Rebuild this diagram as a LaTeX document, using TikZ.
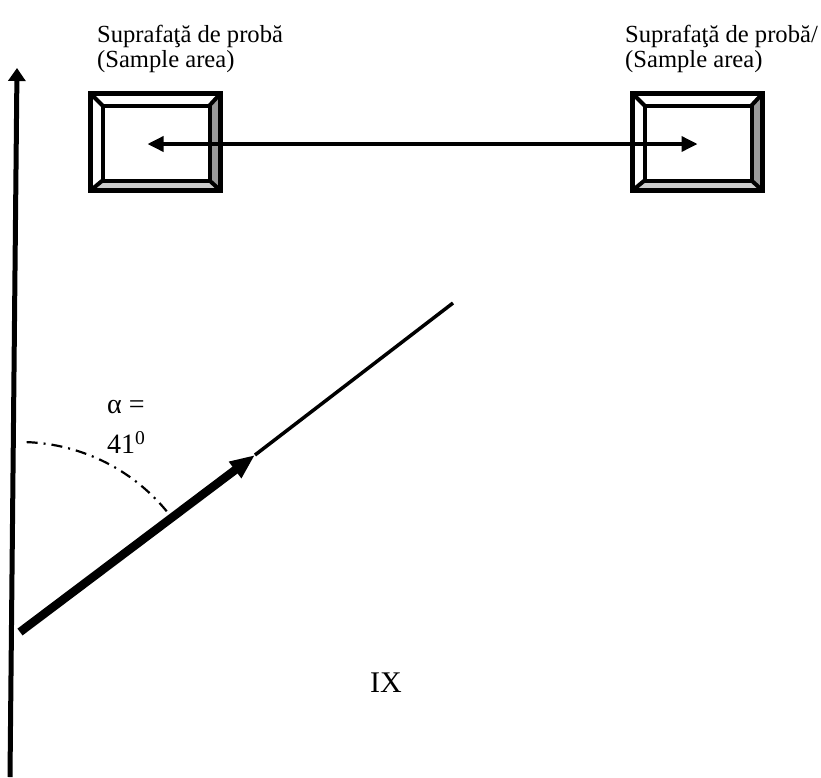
\documentclass[tikz,border=0pt]{standalone}
\usepackage{fontspec}
\setmainfont{Liberation Serif}
\usepackage{tikz}
\usetikzlibrary{arrows.meta,positioning,calc,backgrounds}
\definecolor{bevdark}{RGB}{153,153,153}
\definecolor{bevlight}{RGB}{204,204,204}

\begin{document}
\begin{tikzpicture}[x=1pt,y=-1pt,
 frame/.style={rectangle,draw,line width=5.5pt,minimum width=130pt,minimum height=97pt,inner sep=0pt,outer sep=0pt},
 bevel/.style={line width=4pt},
 link/.style={{Triangle[length=16pt,width=15pt]}-{Triangle[length=16pt,width=15pt]},line width=3.5pt},
 axis/.style={-{Triangle[length=13pt,width=17pt]},line width=5pt},
 beam/.style={-{Triangle[length=25pt,width=19pt]},line width=8.5pt},
 ray/.style={line width=3.5pt},
 anglearc/.style={line width=2.2pt,dash pattern=on 11pt off 6pt on 2pt off 6pt},
 label/.style={align=left,inner sep=0pt,font=\fontsize{24.6}{25}\selectfont}
]
\useasboundingbox (0,0) rectangle (821,777);
\node[frame] (lbox) at (155.5,142) {};
\node[frame] (rbox) at (697.5,142) {};
\foreach \nm in {lbox,rbox}{
 \coordinate (\nm-a) at ($(\nm.north west)+(12,12)$);
 \coordinate (\nm-b) at ($(\nm.north east)+(-11,12)$);
 \coordinate (\nm-c) at ($(\nm.south east)+(-11,-10)$);
 \coordinate (\nm-d) at ($(\nm.south west)+(12,-10)$);
 \begin{scope}[on background layer]
 \fill[bevdark] (\nm.north east) -- (\nm.south east) -- (\nm-c) -- (\nm-b) -- cycle;
 \fill[bevlight] (\nm.south west) -- (\nm.south east) -- (\nm-c) -- (\nm-d) -- cycle;
 \end{scope}
 \draw[bevel] (\nm-a) rectangle (\nm-c);
 \draw[bevel] (\nm.north west) -- (\nm-a) (\nm.north east) -- (\nm-b)
  (\nm.south east) -- (\nm-c) (\nm.south west) -- (\nm-d);
}
\node[label,anchor=north west] (ltext) at (97,25) {Suprafaţă de probă\\(Sample area)};
\node[label,anchor=north west] (rtext) at (625,25) {Suprafaţă de probă/\\(Sample area)};
\coordinate (lend) at ([xshift=-8pt,yshift=-2pt]lbox.center);
\coordinate (rend) at ([yshift=-2pt]rbox.center);
\draw[link] (lend) -- (rend);
% reference axis
\coordinate (axbot) at (10,777);
\coordinate (axtop) at (17,68);
\draw[axis] (axbot) -- (axtop);
% incident beam
\coordinate (src) at (20,632);
\coordinate (hit) at (255,455);
\coordinate (far) at (453,303);
\draw[beam] (src) -- (hit);
\draw[ray] (hit) -- (far);
\draw[anglearc] (src) ++(-88:190) arc[start angle=-88,end angle=-38,radius=190];
\node[align=left,fill=white,inner xsep=4pt,inner ysep=2pt,anchor=north west,font=\fontsize{28}{40}\selectfont] (alpha) at (103,398) {α =\\41\textsuperscript{0}};
\node[inner sep=0pt,font=\fontsize{30}{32}\selectfont] (tag) at (386,683) {IX};
\end{tikzpicture}
\end{document}
